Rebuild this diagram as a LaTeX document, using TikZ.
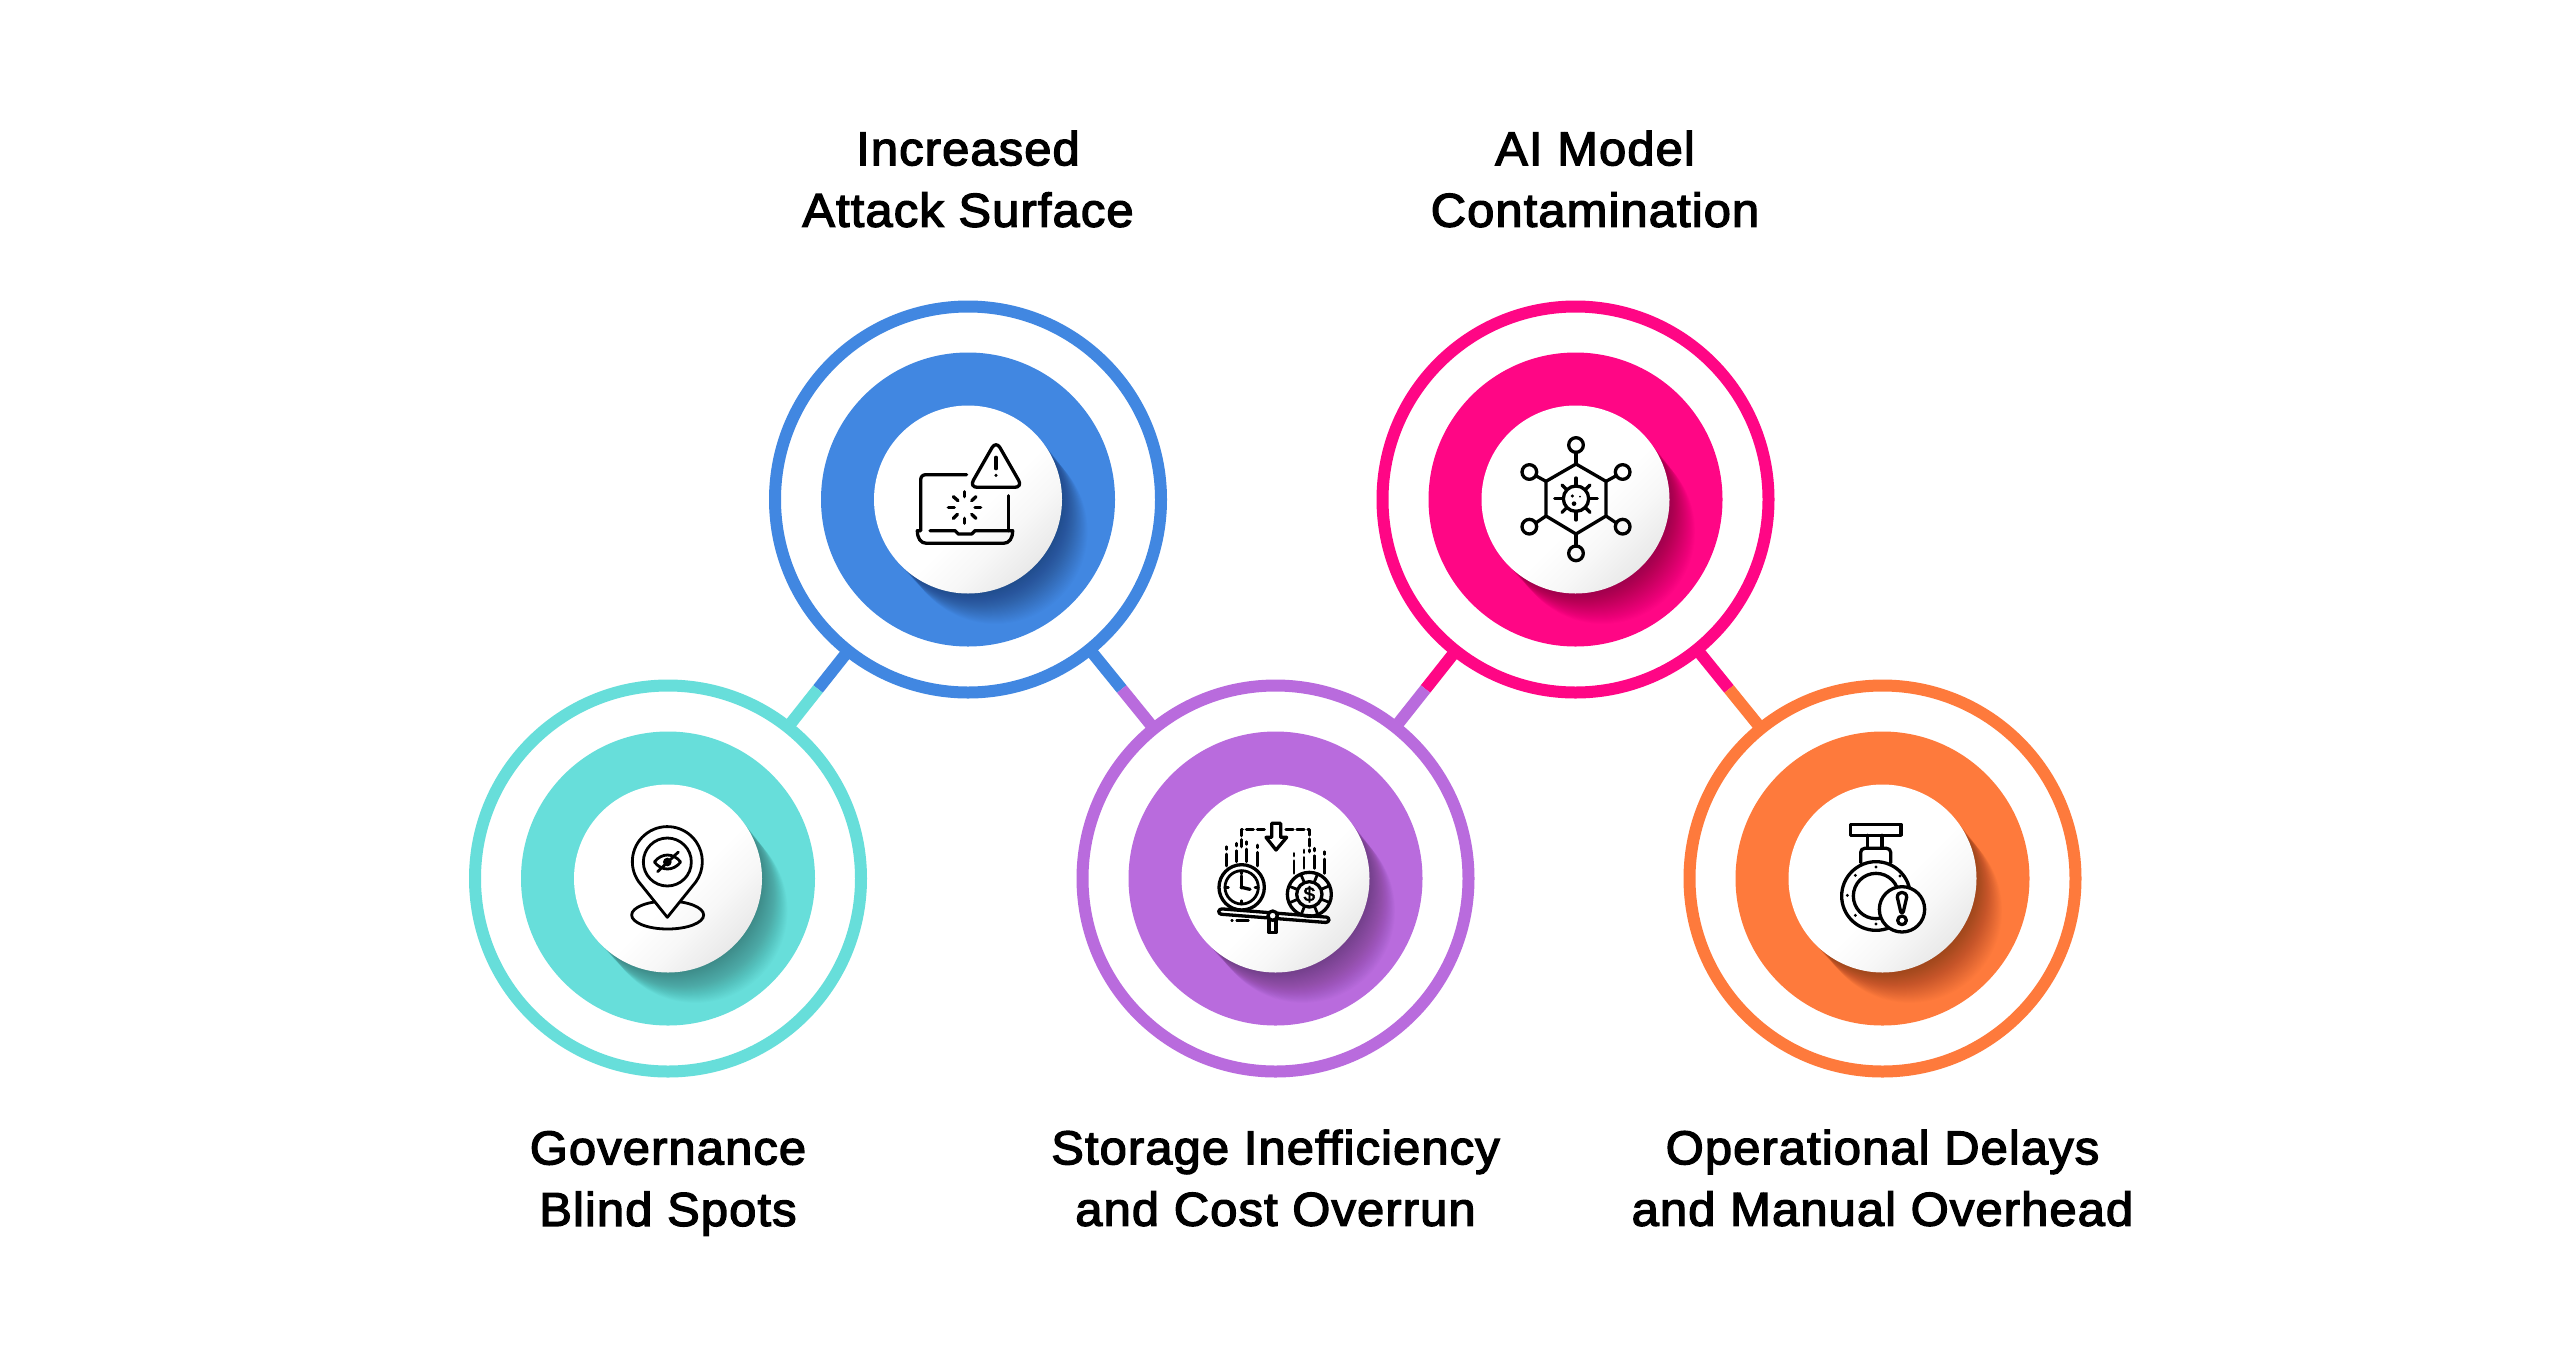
\documentclass[tikz,border=0pt]{standalone}
\usepackage{fontspec}
\setmainfont{Liberation Sans}[FakeBold=2.8,FakeStretch=1.03,LetterSpace=2.3]
\usetikzlibrary{calc}
\definecolor{cblue}{HTML}{4187E1}
\definecolor{cpink}{HTML}{FF0685}
\definecolor{cteal}{HTML}{67DEDA}
\definecolor{cpurple}{HTML}{B96BDD}
\definecolor{corange}{HTML}{FE7A3C}
\pgfdeclareverticalshading{discshade}{100bp}{color(0bp)=(black!11); color(24bp)=(black!9); color(36bp)=(black!3); color(46bp)=(white); color(100bp)=(white)}
\tikzset{
  x=1pt,y=-1pt,
  ringnode/.style={circle,draw=#1,line width=12pt,minimum size=386pt,inner sep=0pt,outer sep=0pt},
  midnode/.style={circle,fill=#1,minimum size=294pt,inner sep=0pt,outer sep=0pt},
  whitenode/.style={circle,shading=discshade,shading angle=45,minimum size=188pt,inner sep=0pt,outer sep=0pt},
  linkline/.style={line width=12pt,draw=#1},
  titletext/.style={font=\fontsize{47.5pt}{61.5pt}\selectfont,align=center,text=black,inner sep=0pt},
  icon/.style={line width=3.3pt,draw=black,line cap=round,line join=round,fill=none},
  iconthin/.style={line width=2.8pt,draw=black,line cap=round,line join=round,fill=none}
}
\newcommand{\discgroup}[4]{%
  \node[ringnode=#2] (#1) at (#3,#4) {};
  \node[midnode=#2] (#1mid) at (#3,#4) {};
  \foreach \k in {1,...,32}{
    \fill[black,opacity=0.0105] ($(#3,#4)+(\k*0.85,\k*1.0)$) circle[radius=94-\k*0.05];
  }
  \node[whitenode] (#1disc) at (#3,#4) {};
}
\begin{document}
\begin{tikzpicture}
\useasboundingbox (0,0) rectangle (2560,1361);
\fill[white] (0,0) rectangle (2560,1361);

\discgroup{blue}{cblue}{968}{499.5}
\discgroup{pink}{cpink}{1575.5}{499.5}
\discgroup{teal}{cteal}{668}{878.5}
\discgroup{purple}{cpurple}{1275.5}{878.5}
\discgroup{orange}{corange}{1882.5}{878.5}

\coordinate (m1) at ($(blue)!0.5!(teal)$);
\coordinate (m2) at ($(blue)!0.5!(purple)$);
\coordinate (m3) at ($(pink)!0.5!(purple)$);
\coordinate (m4) at ($(pink)!0.5!(orange)$);
\draw[linkline=cblue] (blue) -- (m1);
\draw[linkline=cteal] (teal) -- (m1);
\draw[linkline=cblue] (blue) -- (m2);
\draw[linkline=cpurple] (purple) -- (m2);
\draw[linkline=cpink] (pink) -- (m3);
\draw[linkline=cpurple] (purple) -- (m3);
\draw[linkline=cpink] (pink) -- (m4);
\draw[linkline=corange] (orange) -- (m4);

% laptop icon
\begin{scope}[shift={(740,280)},scale=1/3]
  \draw[icon] (680,584) -- (558,584) .. controls (548,584) and (542,590) .. (542,600) -- (542,752);
  \draw[icon] (805,647) -- (805,752);
  \draw[icon] (570,752) -- (645,752) -- (655,762) -- (695,762) -- (705,752) -- (818,752) .. controls (818,775) and (808,790) .. (790,790) -- (560,790) .. controls (542,790) and (532,775) .. (532,752) -- (542,752);
  \foreach \a/\b/\c/\d in {673/635/673/650,673/715/673/730,625/682/643/682,705/682/722/682,640/650/654/662,708/650/695/662,640/715/652/703,708/715/695/703}{
    \draw[icon] (\a,\b) -- (\c,\d);
  }
  \draw[icon,rounded corners=8pt] (768,482) -- (848,622) -- (688,622) -- cycle;
  \draw[icon] (768,532) -- (768,566);
  \fill (768,586) circle[radius=5];
\end{scope}

% virus icon
\begin{scope}[shift={(1440,380)},scale=1/3]
  \draw[icon] (408,252) -- (498,304) -- (498,408) -- (408,462) -- (318,408) -- (318,304) -- cycle;
  \foreach \cx/\cy/\vx/\vy/\ex/\ey in {408/195/408/252/408/217,408/520/408/462/408/498,268/276/318/304/287/287,548/276/498/304/529/287,268/440/318/408/287/429,548/440/498/408/529/429}{
    \draw[icon] (\cx,\cy) circle[radius=22];
    \draw[icon] (\vx,\vy) -- (\ex,\ey);
  }
  \draw[icon] (408,356) circle[radius=38];
  \foreach \a/\b/\c/\d in {408/294/408/318,408/394/408/420,344/356/370/356,446/356/472/356,381/330/366/315,435/330/450/315,381/382/366/397,435/382/450/397}{
    \draw[icon] (\a,\b) -- (\c,\d);
  }
  \fill (397,348) circle[radius=5];
  \fill (420,350) circle[radius=3];
  \fill (402,371) circle[radius=7];
\end{scope}

% pin icon
\begin{scope}[shift={(560,780)},scale=1/3]
  \draw[iconthin] (323,405) ellipse[x radius=108,y radius=42];
  \fill[white] (322,412) -- (236,305) arc[start angle=145,end angle=395,radius=105] -- cycle;
  \draw[iconthin] (322,412) -- (236,305) arc[start angle=145,end angle=395,radius=105] -- cycle;
  \draw[iconthin] (322,246) circle[radius=72];
  \draw[iconthin] (283,246) .. controls (305,218) and (340,218) .. (362,246) .. controls (340,274) and (305,274) .. (283,246) -- cycle;
  \fill (322,246) circle[radius=13];
  \draw[iconthin] (293,275) -- (355,216);
\end{scope}

% balance icon
\begin{scope}[shift={(1180,780)},scale=1/3]
  \draw[icon,rounded corners=3pt] (117,386) -- (448,412) -- (446,428) -- (115,402) -- cycle;
  \draw[icon] (267,420) -- (267,458) -- (288,458) -- (288,420);
  \fill[white] (278,407) circle[radius=14];
  \draw[icon] (278,407) circle[radius=14];
  \draw[iconthin] (155,421) -- (157,421);
  \draw[iconthin] (170,421) -- (205,421);
  \draw[icon] (185,322) circle[radius=68];
  \draw[iconthin] (185,322) circle[radius=50];
  \foreach \a/\b/\c/\d in {185/272/185/282,185/362/185/372,135/322/145/322,225/322/235/322}{
    \draw[iconthin] (\a,\b) -- (\c,\d);
  }
  \draw[icon] (185,322) -- (185,288);
  \draw[icon] (185,322) -- (210,328);
  \fill (185,322) circle[radius=6];
  \draw[icon] (388,343) circle[radius=66];
  \draw[icon] (388,343) circle[radius=38];
  \foreach \an in {0,45,...,315}{
    \draw[iconthin] ($(388,343)+(\an+22:42)$) -- ($(388,343)+(\an+22:62)$);
  }
  \node[inner sep=0pt,font=\fontsize{20pt}{20pt}\selectfont] (chipsign) at (388,343) {\$};
  \draw[icon,dash pattern=on 7pt off 4pt] (185,200) -- (185,148) -- (262,148);
  \draw[icon,dash pattern=on 7pt off 4pt] (318,148) -- (388,148) -- (388,215);
  \draw[icon] (275,130) -- (302,130) -- (302,172) -- (320,172) -- (288,210) -- (258,172) -- (275,172) -- cycle;
  \foreach \xa/\ya/\yb in {140/200/258,170/190/245,200/185/245,232/195/258,342/220/280,372/210/265,403/205/265,434/215/280}{
    \draw[iconthin] (\xa,\ya) -- (\xa,\ya+8);
    \draw[iconthin] (\xa,\ya+22) -- (\xa,\yb);
  }
\end{scope}

% valve icon
\begin{scope}[shift={(1790,790)},scale=1/3]
  \draw[icon] (182,103) rectangle (333,136);
  \draw[icon] (232,136) -- (232,175);
  \draw[icon] (276,136) -- (276,175);
  \draw[icon,rounded corners=4pt] (212,218) -- (212,175) -- (302,175) -- (302,218);
  \draw[icon] (258,318) circle[radius=103];
  \draw[icon] (258,318) circle[radius=68];
  \foreach \bx/\by in {258/231,330/258,172/316,196/376,258/402,196/256}{
    \fill (\bx,\by) circle[radius=5];
  }
  \fill[white] (336,358) circle[radius=68];
  \draw[icon] (336,358) circle[radius=68];
  \draw[icon] (322,322) .. controls (322,302) and (350,302) .. (350,322) -- (340,365) .. controls (338,370) and (334,370) .. (332,365) -- cycle;
  \draw[icon] (336,391) circle[radius=13];
\end{scope}

\node[titletext] (tblue) at (968,179) {Increased\\Attack Surface};
\node[titletext] (tpink) at (1595,179) {AI Model\\Contamination};
\node[titletext] (tteal) at (668,1183.5) {Governance\\Blind Spots};
\node[titletext] (tpurple) at (1275.5,1178) {Storage Inefficiency\\and Cost Overrun};
\node[titletext] (torange) at (1882.5,1178) {Operational Delays\\and Manual Overhead};
\end{tikzpicture}
\end{document}
